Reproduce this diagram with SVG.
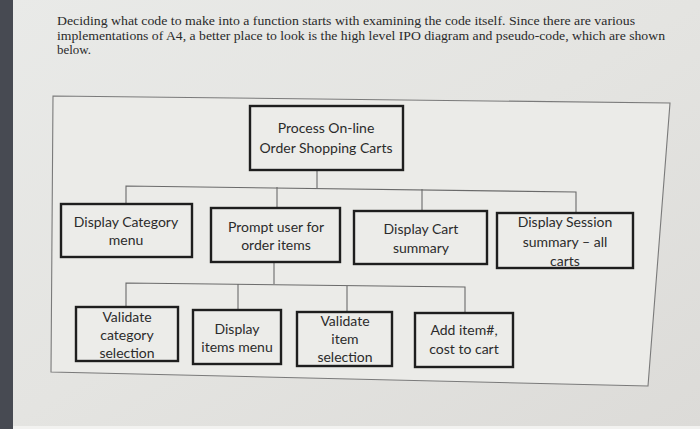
<svg xmlns="http://www.w3.org/2000/svg" width="700" height="429" viewBox="0 0 700 429">
<defs>
<linearGradient id="bg" x1="0" y1="0" x2="1" y2="1">
<stop offset="0" stop-color="#e9eae8"/>
<stop offset="0.5" stop-color="#e4e4e1"/>
<stop offset="1" stop-color="#dcdbd8"/>
</linearGradient>
<style>
.para{font-family:"Liberation Serif","Times New Roman",serif;font-size:13.5px;fill:#2a2a2a}
.box{fill:#ecece9;stroke:#1e1e1e;stroke-width:2.4}
.lbl{font-family:Lato,"Open Sans","Liberation Sans",sans-serif;font-size:14px;fill:#2b2b2b;text-anchor:middle}
.conn{fill:none;stroke:#6a6a6a;stroke-width:1.1}
</style>
</defs>
<rect x="0" y="0" width="700" height="429" fill="url(#bg)"/>
<rect x="0" y="0" width="13" height="429" fill="#474a52"/>
<rect x="13" y="426" width="687" height="3" fill="#f2f2f0"/>

<g id="intro">
<text class="para" x="57" y="25" textLength="578" lengthAdjust="spacingAndGlyphs">Deciding what code to make into a function starts with examining the code itself.  Since there are various</text>
<text class="para" x="57" y="39.5" textLength="608" lengthAdjust="spacingAndGlyphs">implementations of A4, a better place to look is the high level IPO diagram and pseudo-code, which are shown</text>
<text class="para" x="57" y="54" textLength="34" lengthAdjust="spacingAndGlyphs">below.</text>
</g>

<g id="frame">
<polygon points="53,96 670,103 648,386 51,372" fill="#ebebe8" stroke="#7a7a7a" stroke-width="1.1"/>
</g>

<g id="connectors">
<polyline class="conn" points="317,171 317,188"/>
<polyline class="conn" points="126,204 126,186 576,192 576,213"/>
<line class="conn" x1="277" y1="187" x2="277" y2="208"/>
<line class="conn" x1="422" y1="189" x2="422" y2="211"/>
<polyline class="conn" points="274,262 274,284"/>
<polyline class="conn" points="126,307 126,283 465,287 465,313"/>
<line class="conn" x1="238" y1="284" x2="238" y2="310"/>
<line class="conn" x1="347" y1="286" x2="347" y2="312"/>
</g>

<g id="n-root">
<rect class="box" x="250" y="106" width="153" height="64"/>
<text class="lbl" x="326" y="133">Process On-line</text>
<text class="lbl" x="326" y="153">Order Shopping Carts</text>
</g>

<g id="n-catmenu">
<rect class="box" x="61" y="204" width="131" height="53"/>
<text class="lbl" x="126" y="226.5">Display Category</text>
<text class="lbl" x="126" y="245">menu</text>
</g>

<g id="n-prompt">
<rect class="box" x="211" y="208" width="129" height="54"/>
<text class="lbl" x="276" y="231.5">Prompt user for</text>
<text class="lbl" x="276" y="249.5">order items</text>
</g>

<g id="n-cart">
<rect class="box" x="354" y="211" width="133" height="53"/>
<text class="lbl" x="421" y="234">Display Cart</text>
<text class="lbl" x="421" y="252.5">summary</text>
</g>

<g id="n-session">
<rect class="box" x="497" y="213" width="136" height="55"/>
<text class="lbl" x="565" y="227">Display Session</text>
<text class="lbl" x="565" y="247">summary – all</text>
<text class="lbl" x="565" y="265.5">carts</text>
</g>

<g id="n-valcat">
<rect class="box" x="76" y="307" width="102" height="54"/>
<text class="lbl" x="127" y="321.5">Validate</text>
<text class="lbl" x="127" y="340">category</text>
<text class="lbl" x="127" y="357.5">selection</text>
</g>

<g id="n-items">
<rect class="box" x="193" y="310" width="88" height="54"/>
<text class="lbl" x="237" y="334">Display</text>
<text class="lbl" x="237" y="352">items menu</text>
</g>

<g id="n-valitem">
<rect class="box" x="297" y="312" width="95" height="54"/>
<text class="lbl" x="345" y="325.5">Validate</text>
<text class="lbl" x="345" y="343.5">item</text>
<text class="lbl" x="345" y="362">selection</text>
</g>

<g id="n-add">
<rect class="box" x="415" y="313" width="98" height="54"/>
<text class="lbl" x="464" y="335">Add item#,</text>
<text class="lbl" x="464" y="354">cost to cart</text>
</g>
</svg>
